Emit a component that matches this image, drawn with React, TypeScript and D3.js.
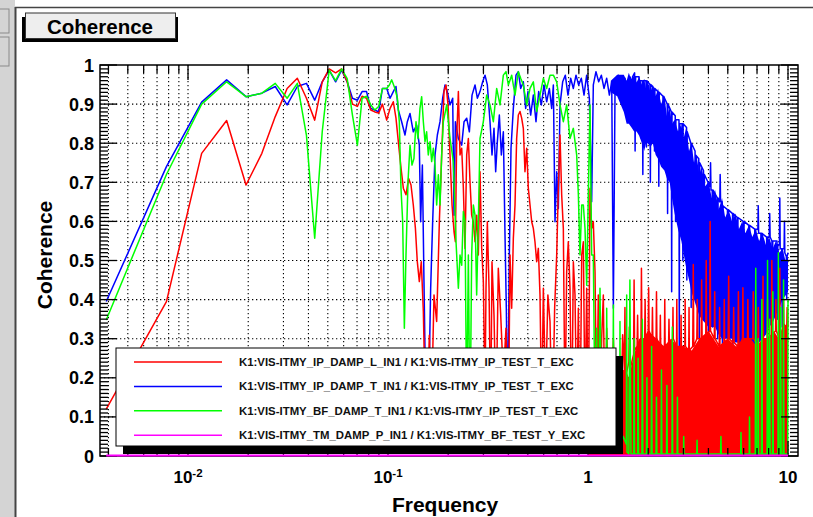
import React from 'react';
import * as d3 from 'd3';

type P = [number, number];

// ---------- data: [frequency (Hz), coherence] ----------
const redPts: P[] = [
  [0.0039,0.12],[0.0078,0.395],[0.0117,0.774],[0.0156,0.858],[0.0195,0.693],[0.0234,0.774],[0.0273,0.868],[0.0313,0.94],
  [0.0352,0.966],[0.0391,0.915],[0.043,0.859],[0.0469,0.957],[0.0508,0.99],[0.0547,0.98],[0.0586,0.99],[0.0625,0.957],
  [0.0664,0.9],[0.0703,0.894],[0.0742,0.92],[0.0781,0.915],[0.082,0.885],[0.0859,0.88],[0.0898,0.877],[0.0938,0.9],
  [0.0985,0.859],[0.1024,0.889],[0.1063,0.906],[0.1096,0.864],[0.1126,0.804],[0.1157,0.744],[0.1193,0.685],[0.123,0.668],
  [0.1268,0.71],[0.1303,0.693],[0.1338,0.642],[0.1371,0.582],[0.1401,0.497],[0.1434,0.446],[0.1467,0.497],[0.1502,0.369],
  [0.1537,0.12],[0.1572,0.05],[0.1609,0.309],[0.1647,0.1],[0.1698,0.412],[0.1751,0.344],[0.1806,0.599],[0.1855,0.77],
  [0.1905,0.932],[0.195,0.949],[0.1996,0.898],[0.2042,0.77],[0.209,0.642],[0.2138,0.574],[0.2172,0.548],[0.2205,0.812],
  [0.2248,0.932],[0.2291,0.77],[0.2336,0.787],[0.2381,0.685],[0.2427,0.531],[0.2474,0.77],[0.2522,0.812],[0.257,0.702],
  [0.262,0.616],[0.2671,0.599],[0.2723,0.548],[0.2775,0.616],[0.2829,0.514],[0.2884,0.727],[0.294,0.531],[0.2997,0.446],
  [0.3055,0.15],[0.309,0.429],[0.3138,0.599],[0.32,0.429],[0.326,0.08],[0.3311,0.497],[0.3388,0.361],[0.347,0.1],
  [0.356,0.48],[0.366,0.361],[0.3773,0.2],[0.389,0.327],[0.3997,0.05],[0.4074,0.514],[0.4153,0.378],[0.4233,0.557],
  [0.4315,0.642],[0.4398,0.812],[0.4484,0.872],[0.4571,0.881],[0.4659,0.864],[0.4749,0.838],[0.484,0.727],[0.4935,0.787],
  [0.503,0.685],[0.5129,0.642],[0.523,0.599],[0.5329,0.582],[0.543,0.548],[0.5538,0.497],[0.5645,0.531],[0.5754,0.412],
  [0.5866,0.1],[0.598,0.429],[0.6137,0.15],[0.63,0.412],[0.6457,0.344],[0.663,0.05],[0.681,0.378],[0.6973,0.514],
  [0.7108,0.685],[0.7244,0.821],[0.7385,0.668],[0.7528,0.582],[0.7674,0.1],[0.7822,0.471],[0.797,0.548],[0.8128,0.429],
  [0.8285,0.05],[0.8446,0.497],[0.861,0.412],[0.8777,0.1],[0.8948,0.378],[0.912,0.05],[0.93,0.514],[0.9477,0.548],
  [0.9661,0.1],[0.9848,0.429],[1.004,0.05],[1.0233,0.685],[1.043,0.582],[1.063,0.599],[1.084,0.471],[1.105,0.1],
  [1.126,0.412],[1.148,0.05],[1.17,0.3],[1.193,0.412],[1.216,0.05],[1.24,0.327],[1.288,0.02],[1.339,0.3],
  [1.39,0.05],[1.42,0.25],[1.45,0.02],[1.49,0.31],
  [1.52,0.22],[1.53,0.38],[1.54,0.2],[1.6,0.24],[1.61,0.33],[1.62,0.22],[1.69,0.26],[1.7,0.45],[1.71,0.27],[1.76,0.28],
  [1.77,0.36],[1.78,0.27],[1.84,0.3],[1.85,0.48],[1.86,0.3],[1.92,0.3],[1.93,0.4],[1.94,0.3],[2.0,0.32],[2.01,0.43],
  [2.02,0.32],[2.09,0.3],[2.1,0.38],[2.11,0.3],[2.19,0.3],[2.2,0.42],[2.21,0.3],[2.29,0.28],[2.3,0.36],[2.31,0.28],
  [2.41,0.28],[2.42,0.4],[2.43,0.28],[2.53,0.29],[2.54,0.35],[2.55,0.29],[2.65,0.3],[2.66,0.38],[2.67,0.3],[2.77,0.28],
  [2.78,0.4],[2.79,0.28],[2.91,0.28],[2.92,0.36],[2.93,0.28],[3.05,0.28],[3.06,0.4],[3.07,0.28],[3.19,0.27],[3.2,0.38],
  [3.21,0.27],[3.34,0.28],[3.36,0.49],[3.38,0.28],[3.5,0.3],[3.52,0.4],[3.54,0.3],[3.68,0.3],[3.7,0.45],[3.72,0.3],
  [3.88,0.31],[3.9,0.5],[3.92,0.31],[4.06,0.32],[4.08,0.6],[4.1,0.32],[4.28,0.3],[4.3,0.42],[4.32,0.3],[4.53,0.28],
  [4.55,0.38],[4.57,0.28],[4.78,0.29],[4.8,0.4],[4.82,0.29],[5.02,0.3],[5.05,0.46],[5.08,0.3],[5.32,0.29],[5.35,0.38],
  [5.38,0.29],[5.62,0.28],[5.65,0.42],[5.68,0.28],[5.92,0.3],[5.95,0.43],[5.98,0.3],[6.27,0.3],[6.3,0.4],[6.33,0.3],
  [6.67,0.3],[6.7,0.42],[6.73,0.3],[7.07,0.28],[7.1,0.38],[7.13,0.28],[7.46,0.3],[7.5,0.46],[7.54,0.3],[7.86,0.3],
  [7.9,0.4],[7.94,0.3],[8.26,0.31],[8.3,0.5],[8.34,0.31],[8.66,0.32],[8.7,0.4],[8.74,0.32],[9.06,0.3],[9.1,0.48],
  [9.14,0.3],[9.46,0.33],[9.5,0.4],[9.54,0.33],[9.86,0.33],[9.9,0.38],[10.0,0.33],
];

const bluePts: P[] = [
  [0.0039,0.395],[0.0078,0.74],[0.0117,0.905],[0.0156,0.962],[0.0195,0.919],[0.0234,0.928],[0.0273,0.945],[0.0313,0.898],
  [0.0352,0.945],[0.0391,0.953],[0.043,0.91],[0.0469,0.957],[0.0508,0.987],[0.0547,0.957],[0.0586,0.987],[0.0625,0.957],
  [0.0664,0.915],[0.0703,0.91],[0.0742,0.932],[0.0781,0.932],[0.082,0.889],[0.0859,0.885],[0.0898,0.88],[0.0938,0.94],
  [0.0985,0.94],[0.1024,0.915],[0.1063,0.932],[0.1096,0.945],[0.1126,0.885],[0.117,0.855],[0.1216,0.821],[0.1249,0.855],
  [0.1288,0.876],[0.1338,0.829],[0.139,0.846],[0.1434,0.795],[0.1456,0.599],[0.1485,0.744],[0.1513,0.446],[0.1543,0.15],
  [0.159,0.1],[0.1634,0.429],[0.1672,0.599],[0.1718,0.77],[0.1765,0.821],[0.182,0.855],[0.1876,0.915],[0.1928,0.949],
  [0.198,0.932],[0.2042,0.898],[0.2106,0.915],[0.2138,0.616],[0.2172,0.855],[0.2248,0.812],[0.2336,0.795],[0.24,0.855],
  [0.2474,0.864],[0.2551,0.829],[0.2631,0.923],[0.2723,0.949],[0.2797,0.915],[0.2884,0.932],[0.2974,0.957],[0.3055,0.974],
  [0.3138,0.949],[0.3236,0.855],[0.3311,0.77],[0.3388,0.838],[0.3454,0.727],[0.3521,0.804],[0.3603,0.872],[0.3687,0.77],
  [0.3773,0.829],[0.3846,0.565],[0.3905,0.378],[0.3966,0.1],[0.4043,0.514],[0.4121,0.787],[0.4233,0.889],[0.4365,0.974],
  [0.4484,0.983],[0.4606,0.94],[0.4749,0.957],[0.4879,0.889],[0.5011,0.932],[0.5168,0.872],[0.5329,0.923],[0.5495,0.855],
  [0.5667,0.932],[0.5844,0.898],[0.6026,0.949],[0.6214,0.906],[0.6408,0.94],[0.6583,0.889],[0.671,0.949],[0.684,0.599],
  [0.6973,0.727],[0.7108,0.633],[0.7244,0.898],[0.747,0.957],[0.77,0.974],[0.794,0.923],[0.819,0.966],[0.8446,0.94],
  [0.871,0.974],[0.898,0.949],[0.926,0.966],[0.955,0.923],[0.9848,0.974],[1.016,0.915],[1.043,0.65],[1.063,0.949],
  [1.096,0.983],[1.131,0.957],[1.166,0.974],[1.202,0.94],[1.24,0.966],[1.279,0.923],[1.314,0.957],[1.339,0.378],
  [1.365,0.94],[1.418,0.974],[1.473,0.932],[1.53,0.966],[1.591,0.915],
  [1.62,0.97],[1.65,0.96],[1.66,0.86],[1.67,0.97],[1.71,0.98],[1.72,0.78],[1.73,0.97],[1.8,0.97],[1.81,0.83],[1.82,0.96],
  [1.87,0.96],[1.88,0.72],[1.89,0.96],[1.95,0.96],[1.96,0.79],[1.97,0.96],[2.04,0.95],[2.05,0.7],[2.06,0.95],[2.14,0.94],
  [2.15,0.78],[2.16,0.94],[2.25,0.93],[2.26,0.69],[2.27,0.93],[2.37,0.92],[2.38,0.74],[2.39,0.92],[2.49,0.9],[2.5,0.62],
  [2.51,0.9],[2.61,0.88],[2.62,0.42],[2.63,0.88],[2.73,0.87],[2.74,0.6],[2.75,0.86],[2.85,0.86],[2.86,0.22],[2.87,0.85],
  [2.97,0.85],[2.98,0.5],[2.99,0.85],[3.11,0.84],[3.12,0.45],[3.13,0.83],[3.27,0.8],[3.28,0.38],[3.29,0.8],[3.43,0.78],
  [3.44,0.4],[3.45,0.77],[3.58,0.76],[3.6,0.3],[3.62,0.75],[3.78,0.73],[3.8,0.35],[3.82,0.72],[3.98,0.7],[4.0,0.3],
  [4.02,0.7],[4.08,0.69],[4.1,0.75],[4.12,0.68],[4.18,0.68],[4.2,0.33],[4.22,0.68],[4.43,0.66],[4.45,0.3],[4.47,0.66],
  [4.56,0.65],[4.58,0.72],[4.6,0.65],[4.68,0.65],[4.7,0.28],[4.72,0.64],[4.98,0.63],[5.0,0.3],[5.02,0.63],[5.28,0.62],
  [5.3,0.27],[5.32,0.62],[5.58,0.61],[5.6,0.3],[5.62,0.61],[5.97,0.6],[6.0,0.25],[6.03,0.6],[6.37,0.59],[6.4,0.3],
  [6.43,0.59],[6.82,0.58],[6.85,0.26],[6.88,0.58],[7.07,0.58],[7.1,0.64],[7.13,0.57],[7.32,0.57],[7.35,0.3],[7.38,0.57],
  [7.82,0.56],[7.85,0.33],[7.88,0.56],[8.06,0.56],[8.1,0.62],[8.14,0.56],[8.31,0.55],[8.35,0.3],[8.39,0.55],[8.81,0.55],
  [8.85,0.35],[8.89,0.54],[9.06,0.54],[9.1,0.66],[9.14,0.53],[9.31,0.53],[9.35,0.33],[9.39,0.53],[9.56,0.53],[9.6,0.6],
  [9.64,0.52],[9.81,0.51],[9.85,0.4],[9.89,0.51],[10.0,0.52],
];

const greenPts: P[] = [
  [0.0039,0.348],[0.0078,0.72],[0.0117,0.9],[0.0156,0.957],[0.0195,0.919],[0.0234,0.928],[0.0273,0.953],[0.0313,0.915],
  [0.0352,0.953],[0.0391,0.82],[0.043,0.557],[0.0469,0.83],[0.0508,0.987],[0.0547,0.96],[0.0586,0.99],[0.0625,0.965],
  [0.0664,0.872],[0.0703,0.795],[0.0742,0.915],[0.0781,0.92],[0.082,0.898],[0.0859,0.885],[0.0898,0.894],[0.0938,0.94],
  [0.0985,0.94],[0.1016,0.949],[0.1043,0.962],[0.1083,0.94],[0.1114,0.915],[0.1139,0.855],[0.1161,0.685],[0.1184,0.599],
  [0.1207,0.327],[0.123,0.514],[0.1259,0.702],[0.1288,0.795],[0.1318,0.744],[0.1348,0.761],[0.138,0.855],[0.1412,0.812],
  [0.1445,0.889],[0.1473,0.919],[0.1502,0.855],[0.1531,0.804],[0.156,0.829],[0.159,0.77],[0.1622,0.804],[0.1653,0.753],
  [0.1685,0.787],[0.1718,0.744],[0.1751,0.642],[0.1785,0.719],[0.182,0.642],[0.1855,0.77],[0.1891,0.855],[0.1965,0.898],
  [0.2042,0.812],[0.2122,0.753],[0.2188,0.548],[0.2248,0.429],[0.2291,0.514],[0.2336,0.488],[0.2381,0.625],[0.2427,0.599],
  [0.2474,0.1],[0.2522,0.514],[0.257,0.05],[0.262,0.514],[0.2671,0.642],[0.2723,0.616],[0.2775,0.412],[0.2829,0.599],
  [0.2884,0.812],[0.2997,0.855],[0.3114,0.923],[0.3236,0.898],[0.3363,0.855],[0.3494,0.94],[0.3631,0.898],[0.3773,0.974],
  [0.389,0.983],[0.3997,0.949],[0.4153,0.974],[0.4315,0.923],[0.4484,0.983],[0.4606,0.966],[0.4749,0.949],[0.4935,0.898],
  [0.5129,0.94],[0.5329,0.957],[0.5538,0.881],[0.5754,0.923],[0.598,0.966],[0.6214,0.94],[0.6457,0.974],[0.671,0.974],
  [0.6973,0.957],[0.7244,0.898],[0.7528,0.855],[0.7822,0.898],[0.8128,0.812],[0.8446,0.838],[0.8777,0.77],[0.8948,0.668],
  [0.912,0.514],[0.93,0.642],[0.9477,0.642],[0.9661,0.582],[0.9848,0.437],[1.004,0.668],[1.0233,0.898],[1.043,0.514],
  [1.063,0.514],[1.084,0.1],[1.105,0.327],[1.126,0.05],[1.148,0.429],[1.17,0.05],[1.193,0.1],[1.23,0.05],[1.24,0.378],
  [1.25,0.05],[1.288,0.05],[1.33,0.05],[1.339,0.386],[1.348,0.05],[1.391,0.1],[1.44,0.05],[1.445,0.344],[1.45,0.03],
  [1.5,0.05],[1.555,0.03],[1.561,0.412],[1.567,0.01],
  [1.6,0.005],[1.62,0.45],[1.64,0.005],[1.69,0.005],[1.7,0.3],[1.71,0.005],[1.77,0.005],[1.78,0.25],[1.79,0.005],[1.86,0.005],
  [1.87,0.35],[1.88,0.005],[1.96,0.005],[1.97,0.2],[1.98,0.005],[2.07,0.005],[2.08,0.28],[2.09,0.005],[2.19,0.005],[2.2,0.15],
  [2.21,0.005],[2.32,0.005],[2.33,0.22],[2.34,0.005],[2.47,0.005],[2.48,0.18],[2.49,0.005],[2.63,0.005],[2.64,0.33],[2.65,0.005],
  [2.79,0.005],[2.8,0.15],[2.81,0.005],[3.0,0.005],[3.01,0.05],[3.02,0.005],[3.5,0.005],[3.51,0.04],[3.52,0.005],[4.6,0.005],
  [4.62,0.05],[4.64,0.005],[5.8,0.005],[5.82,0.06],[5.84,0.005],[6.4,0.005],[6.42,0.1],[6.44,0.005],[6.86,0.005],[6.9,0.48],
  [6.94,0.005],[7.07,0.005],[7.1,0.3],[7.13,0.005],[7.36,0.005],[7.4,0.4],[7.44,0.005],[7.86,0.005],[7.9,0.5],[7.94,0.005],
  [8.06,0.005],[8.1,0.35],[8.14,0.005],[8.36,0.005],[8.4,0.42],[8.44,0.005],[8.91,0.005],[8.95,0.52],[8.99,0.005],[9.16,0.005],
  [9.2,0.38],[9.24,0.005],[9.46,0.005],[9.5,0.45],[9.54,0.005],[9.96,0.005],[10.0,0.4],
];

const magentaPts: P[] = [[0.0039, 0], [10.0, 0]];

// dense-region envelopes: [frequency, low, high]
const blueBand: [number, number, number][] = [
  [1.3,0.93,0.96],[1.4,0.92,0.975],[1.51,0.88,0.975],[1.56,0.85,0.96],[1.6,0.85,0.98],[1.65,0.84,0.96],[1.7,0.83,0.975],
  [1.75,0.83,0.955],[1.8,0.82,0.97],[1.86,0.8,0.95],[1.91,0.78,0.965],[1.95,0.8,0.94],[1.99,0.8,0.96],[2.05,0.79,0.93],
  [2.11,0.8,0.95],[2.18,0.77,0.92],[2.24,0.76,0.94],[2.32,0.74,0.9],[2.41,0.73,0.92],[2.48,0.71,0.87],[2.56,0.7,0.89],
  [2.63,0.66,0.85],[2.71,0.62,0.86],[2.82,0.58,0.83],[2.93,0.55,0.85],[3.0,0.52,0.81],[3.1,0.48,0.84],[3.2,0.45,0.78],
  [3.29,0.42,0.8],[3.39,0.4,0.75],[3.49,0.38,0.77],[3.6,0.36,0.72],[3.7,0.35,0.74],[3.85,0.34,0.69],[4.0,0.33,0.7],
  [4.16,0.33,0.66],[4.32,0.33,0.68],[4.5,0.31,0.63],[4.68,0.3,0.66],[4.85,0.3,0.61],[5.05,0.3,0.63],[5.25,0.3,0.6],
  [5.46,0.29,0.62],[5.68,0.29,0.58],[5.9,0.28,0.6],[6.12,0.28,0.57],[6.38,0.27,0.59],[6.63,0.27,0.56],[6.9,0.28,0.58],
  [7.17,0.29,0.55],[7.45,0.3,0.57],[7.75,0.31,0.54],[8.05,0.33,0.56],[8.38,0.34,0.53],[8.7,0.36,0.55],[9.05,0.38,0.52],
  [9.4,0.4,0.53],[9.7,0.41,0.5],[10.0,0.42,0.51],
];
const redBand: [number, number, number][] = [
  [1.0,0,0.1],[1.05,0,0.2],[1.1,0,0.24],[1.3,0,0.25],[1.5,0,0.22],[1.55,0,0.22],[1.6,0,0.2],[1.7,0,0.26],[1.8,0,0.3],
  [1.9,0,0.3],[2.0,0,0.32],[2.2,0,0.3],[2.4,0,0.28],[2.6,0,0.3],[2.8,0,0.28],[3.0,0,0.28],[3.3,0,0.27],[3.6,0,0.3],
  [4.0,0,0.32],[4.5,0,0.28],[5.0,0,0.3],[5.5,0,0.28],[6.0,0,0.3],[6.5,0,0.3],[7.0,0,0.28],[7.5,0,0.3],[8.0,0,0.3],
  [8.5,0,0.32],[9.0,0,0.3],[9.5,0,0.34],[10.0,0,0.33],
];

const yTickLabels = ['0', '0.1', '0.2', '0.3', '0.4', '0.5', '0.6', '0.7', '0.8', '0.9', '1'];
const xTickLabels: { v: number; base: string; exp?: string }[] = [
  { v: 0.01, base: '10', exp: '-2' },
  { v: 0.1, base: '10', exp: '-1' },
  { v: 1, base: '1' },
  { v: 10, base: '10' },
];
const legendLabels = [
  'K1:VIS-ITMY_IP_DAMP_L_IN1 / K1:VIS-ITMY_IP_TEST_T_EXC',
  'K1:VIS-ITMY_IP_DAMP_T_IN1 / K1:VIS-ITMY_IP_TEST_T_EXC',
  'K1:VIS-ITMY_BF_DAMP_T_IN1 / K1:VIS-ITMY_IP_TEST_T_EXC',
  'K1:VIS-ITMY_TM_DAMP_P_IN1 / K1:VIS-ITMY_BF_TEST_Y_EXC',
];
const colors = ['#ff0000', '#0000ff', '#00ff00', '#ff00ff'];

const FONT = "'Liberation Sans', Arial, Helvetica, sans-serif";

export default function App() {
  const L = 100, R = 798, T = 65, B = 456;
  const x = d3.scaleLog().domain([0.00363, 11.22]).range([L, R]);
  const y = d3.scaleLinear().domain([0, 1]).range([B, T]);

  const line = d3.line<P>().x(d => x(d[0])).y(d => y(d[1]));
  const band = d3.area<[number, number, number]>()
    .x(d => x(d[0])).y0(d => y(d[1])).y1(d => y(d[2]));

  const xTicks: { v: number; major: boolean }[] = [];
  for (let d = -3; d <= 1; d++) {
    for (let k = 1; k <= 9; k++) {
      const v = k * Math.pow(10, d);
      if (v >= 0.00363 && v <= 11.22) xTicks.push({ v, major: k === 1 });
    }
  }
  const yMinor = d3.range(0, 101).map(i => i / 100);
  const yMajor = d3.range(0, 11).map(i => i / 10);

  const legX = 116, legY = 348, legW = 500, legH = 98;

  return (
    <svg width={813} height={517} style={{ position: 'absolute', left: 0, top: 0, background: '#fff' }}
      fontFamily={FONT}>
      <rect x={0} y={0} width={813} height={517} fill="#fff" />
      {/* left tool panel */}
      <rect x={0} y={0} width={15} height={517} fill="#d4d4d4" />
      <rect x={-1} y={9} width={10} height={24} fill="#d4d4d4" stroke="#8a8a8a" strokeWidth={1} />
      <rect x={-1} y={37} width={10} height={29} fill="#d4d4d4" stroke="#8a8a8a" strokeWidth={1} />
      <line x1={15.5} y1={7} x2={15.5} y2={517} stroke="#444" strokeWidth={2} />
      <line x1={15} y1={7.5} x2={813} y2={7.5} stroke="#444" strokeWidth={1.5} />

      {/* title box */}
      <rect x={22} y={17} width={156} height={25} fill="#000" />
      <rect x={25.5} y={13} width={150} height={25.5} fill="#eeeeee" stroke="#333" strokeWidth={1} />
      <text x={100} y={33.5} textAnchor="middle" fontSize={20.5} fontWeight="bold" fill="#000">Coherence</text>

      <defs>
        <clipPath id="plotclip">
          <rect x={L} y={T} width={R - L} height={B - T} />
        </clipPath>
      </defs>

      {/* grid */}
      <g stroke="#000" strokeWidth={1.1} strokeDasharray="1.3 2.7">
        {yMajor.filter(v => v > 0 && v < 1).map(v => (
          <line key={'gy' + v} x1={L} x2={R} y1={y(v)} y2={y(v)} />
        ))}
        {xTicks.map(t => (
          <line key={'gx' + t.v} x1={x(t.v)} x2={x(t.v)} y1={T} y2={B} />
        ))}
      </g>

      {/* data */}
      <g clipPath="url(#plotclip)" fill="none" strokeLinejoin="round">
        <path d={band(blueBand) || ''} fill={colors[1]} stroke="none" />
        <path d={line(bluePts) || ''} stroke={colors[1]} strokeWidth={1.5} />
        <path d={band(redBand) || ''} fill={colors[0]} stroke="none" />
        <path d={line(redPts) || ''} stroke={colors[0]} strokeWidth={1.5} />
        <path d={line(greenPts) || ''} stroke={colors[2]} strokeWidth={1.5} />
      </g>

      {/* frame */}
      <rect x={L} y={T} width={R - L} height={B - T} fill="none" stroke="#000" strokeWidth={1.5} />

      {/* ticks */}
      <g stroke="#000" strokeWidth={1.3}>
        {yMinor.map(v => {
          const major = Math.abs(v * 10 - Math.round(v * 10)) < 1e-6;
          const len = major ? 17 : 8;
          return (
            <g key={'ty' + v}>
              <line x1={L} x2={L + len} y1={y(v)} y2={y(v)} />
              <line x1={R} x2={R - len} y1={y(v)} y2={y(v)} />
            </g>
          );
        })}
        {xTicks.map(t => {
          const len = t.major ? 15 : 8;
          return (
            <g key={'tx' + t.v}>
              <line x1={x(t.v)} x2={x(t.v)} y1={B} y2={B - len} />
              <line x1={x(t.v)} x2={x(t.v)} y1={T} y2={T + len} />
            </g>
          );
        })}
      </g>

      {/* y tick labels */}
      {yTickLabels.map((s, i) => (
        <text key={'yl' + s} x={94} y={y(yMajor[i]) + 6.5} textAnchor="end" fontSize={18} fontWeight="bold" fill="#000">{s}</text>
      ))}
      {/* x tick labels */}
      {xTickLabels.map(t => (
        <text key={'xl' + t.v} x={x(t.v)} y={483} textAnchor="middle" fontSize={17} fontWeight="bold" fill="#000">
          <tspan>{t.base}</tspan>
          {t.exp ? <tspan dy={-6} fontSize={11.5}>{t.exp}</tspan> : null}
        </text>
      ))}

      {/* axis titles */}
      <text x={445} y={511.5} textAnchor="middle" fontSize={21} fontWeight="bold" fill="#000">Frequency</text>
      <text transform="translate(52,255) rotate(-90)" textAnchor="middle" fontSize={21} fontWeight="bold" fill="#000">Coherence</text>

      {/* legend */}
      <rect x={legX + 7} y={legY + 8} width={legW} height={legH} fill="#000" />
      <rect x={legX} y={legY} width={legW} height={legH} fill="#fff" stroke="#000" strokeWidth={1} />
      {legendLabels.map((s, i) => {
        const ly = legY + 14 + i * 24.4;
        return (
          <g key={'lg' + i}>
            <line x1={134} x2={222} y1={ly} y2={ly} stroke={colors[i]} strokeWidth={1.5} />
            <text x={239} y={ly + 4} fontSize={11.4} fontWeight="bold" fill="#111">{s}</text>
          </g>
        );
      })}

      {/* magenta series lies on the zero line, drawn over the frame */}
      <path d={line(magentaPts) || ''} fill="none" stroke={colors[3]} strokeWidth={2} transform="translate(0,-0.5)" />
    </svg>
  );
}
